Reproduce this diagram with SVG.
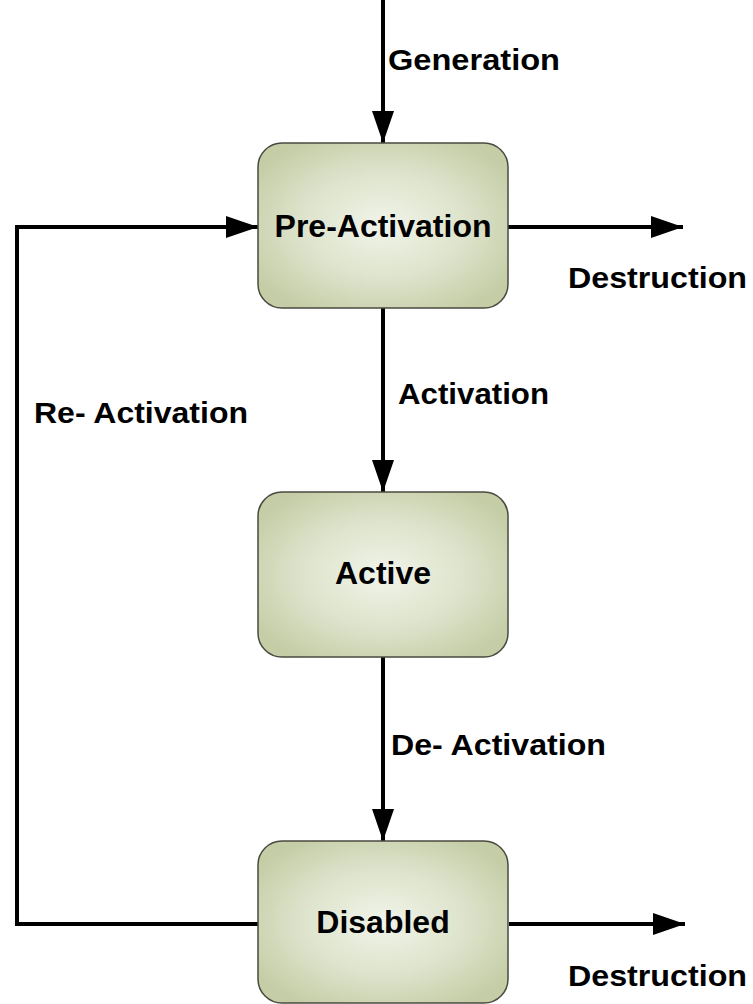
<svg xmlns="http://www.w3.org/2000/svg" width="753" height="1004" viewBox="0 0 753 1004">
  <style>
    .box { fill: url(#boxGrad); stroke: #4a4a40; stroke-width: 1.5; }
    .node-text { font-family: "Liberation Sans", Arial, sans-serif; font-weight: bold; font-size: 32px; fill: #000; text-anchor: middle; }
    .label { font-family: "Liberation Sans", Arial, sans-serif; font-weight: bold; font-size: 30px; fill: #000; }
    .conn { fill: none; stroke: #000; stroke-width: 4; }
  </style>
  <defs>
    <radialGradient id="boxGrad" cx="50%" cy="50%" r="60%">
      <stop offset="0" stop-color="#f1f4ea"/>
      <stop offset="0.55" stop-color="#dde3cb"/>
      <stop offset="1" stop-color="#c4cda6"/>
    </radialGradient>
    <marker id="arrow" markerUnits="userSpaceOnUse" markerWidth="34" markerHeight="24" refX="32" refY="11" orient="auto">
      <path d="M0,0 L32,11 L0,22 Z" fill="#000"/>
    </marker>
  </defs>
  <rect width="753" height="1004" fill="#fff"/>

  <g id="connectors">
    <line class="conn" x1="383" y1="0" x2="383" y2="143" marker-end="url(#arrow)"/>
    <line class="conn" x1="383" y1="308" x2="383" y2="492" marker-end="url(#arrow)"/>
    <line class="conn" x1="383" y1="657" x2="383" y2="841" marker-end="url(#arrow)"/>
    <line class="conn" x1="508" y1="227" x2="683" y2="227" marker-end="url(#arrow)"/>
    <line class="conn" x1="509" y1="924" x2="685" y2="924" marker-end="url(#arrow)"/>
    <polyline class="conn" points="258,924 17,924 17,227 258,227" marker-end="url(#arrow)"/>
  </g>

  <g id="labels">
    <text class="label" x="388" y="70" textLength="172" lengthAdjust="spacingAndGlyphs">Generation</text>
    <text class="label" x="568" y="288" textLength="179" lengthAdjust="spacingAndGlyphs">Destruction</text>
    <text class="label" x="398" y="404" textLength="151" lengthAdjust="spacingAndGlyphs">Activation</text>
    <text class="label" x="34" y="423" textLength="214" lengthAdjust="spacingAndGlyphs">Re- Activation</text>
    <text class="label" x="391" y="755" textLength="215" lengthAdjust="spacingAndGlyphs">De- Activation</text>
    <text class="label" x="568" y="986" textLength="179" lengthAdjust="spacingAndGlyphs">Destruction</text>
  </g>

  <g id="node-pre-activation">
    <rect class="box" x="258" y="143" width="250" height="165" rx="24" ry="24"/>
    <text class="node-text" x="383" y="237">Pre-Activation</text>
  </g>
  <g id="node-active">
    <rect class="box" x="258" y="492" width="250" height="165" rx="24" ry="24"/>
    <text class="node-text" x="383" y="584">Active</text>
  </g>
  <g id="node-disabled">
    <rect class="box" x="258" y="841" width="250" height="162" rx="24" ry="24"/>
    <text class="node-text" x="383" y="933">Disabled</text>
  </g>
</svg>
